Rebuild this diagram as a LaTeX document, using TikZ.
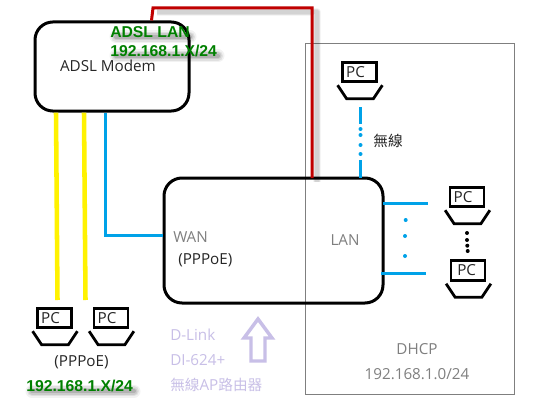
\documentclass[tikz,border=0pt]{standalone}
\usepackage{fontspec}
\setmainfont{Open Sans}
\newfontfamily\armo{Liberation Sans}
\newfontfamily\cjk{Noto Sans CJK TC}
\usetikzlibrary{calc}
\definecolor{rd}{RGB}{192,0,0}
\definecolor{yl}{RGB}{255,242,0}
\definecolor{bl}{RGB}{0,162,232}
\definecolor{gn}{RGB}{0,128,0}
\definecolor{lav}{RGB}{200,191,231}
\definecolor{gt}{RGB}{127,127,127}
\tikzset{
 x=0.75pt,y=-0.75pt,
 roundbox/.style={draw=black,line width=2.25pt,rounded corners=13.5pt,minimum width=#1,inner sep=0pt},
 monitor/.style={draw=black,line width=2.1pt,minimum width=25.5pt,minimum height=14.7pt,inner sep=0pt,font=\fontsize{11.4pt}{12pt}\selectfont,text=black!85},
 lbl/.style={inner sep=0pt,font=\fontsize{11.4pt}{12pt}\selectfont,text=black!85},
 glbl/.style={lbl,text=gt},
 llbl/.style={lbl,text=lav,anchor=west},
 glab/.style={inner sep=0pt,anchor=west,text=gn,font=\armo\bfseries\fontsize{11.8pt}{12pt}\selectfont},
 wire/.style={line width=#1,line cap=butt},
 bluedot/.style={circle,fill=bl,inner sep=0pt,minimum size=3pt},
 blackdot/.style={circle,fill=black,inner sep=0pt,minimum size=3pt},
}
\newcommand{\pcbase}[1]{%
 \draw[line width=2.1pt] ($(#1.south west)+(-3.5,2)$) -- ($(#1.south west)+(5.5,15.5)$) -- ($(#1.south east)+(-4.5,15.5)$) -- ($(#1.south east)+(4.5,2)$);
}
\begin{document}
\begin{tikzpicture}
\useasboundingbox (0,0) rectangle (549,410);
\fill[white] (0,0) rectangle (549,410);
% DHCP zone
\node[draw=gt,line width=0.75pt,minimum width=156.4pt,minimum height=263.3pt,inner sep=0pt] (zone) at (409.75,218.75) {};
% red line shadow
\foreach \w/\o in {6/.04,5/.04,4/.05,3/.05}{
 \draw[black,opacity=\o,line width=\w pt,line join=round] (157,12) -- (317,12) -- (317,182);
}
% boxes
\node[roundbox=115.5pt,minimum height=66.8pt] (modem) at (112,66.5) {};
\node[roundbox=164.25pt,minimum height=93.75pt] (router) at (273.5,240.5) {};
% coordinates
\coordinate (redA) at ($(modem.north west)+(118,0)$);
\coordinate (redB) at (153,8);
\coordinate (redC) at (312,8);
\coordinate (redD) at (312,178);
\coordinate (y1a) at ($(modem.south west)+(22.5,0)$);
\coordinate (y2a) at ($(modem.south west)+(50.5,0)$);
\coordinate (b1a) at ($(modem.south west)+(71.5,0)$);
\coordinate (wanIn) at (router.west |- 0,235.5);
\coordinate (w1) at (360.5,107);
\coordinate (w2) at (360.5,124);
\coordinate (w3) at (360.5,160);
\coordinate (w4) at (360.5,178);
\coordinate (l1) at (383,203);
\coordinate (l2) at (428,203);
\coordinate (l3) at (381,273);
\coordinate (l4) at (426,273);
% wires
\draw[rd,wire=2.25pt,line join=miter] (redA) -- (redB) -- (redC) -- (redD);
\draw[yl,wire=3.4pt] (y1a) -- (57.5,300);
\draw[yl,wire=3.4pt] (y2a) -- (85.5,300);
\draw[bl,wire=2.25pt] (b1a) |- (wanIn);
\draw[bl,wire=2.4pt] (w1) -- (w2);
\draw[bl,wire=2.4pt] (w3) -- (w4);
\draw[bl,wire=2.25pt] (l1) -- (l2);
\draw[bl,wire=2.25pt] (l3) -- (l4);
\foreach \n/\px/\py in {a/360.5/129,b/360.5/135,c/360.5/145,d/360.5/154,e/405.7/220,f/405/236,g/405/256}{
 \node[bluedot] (bd\n) at (\px,\py) {};
}
\foreach \n/\px/\py in {a/467/233,b/467/240,c/467.3/245.7,d/467.7/251}{
 \node[blackdot] (kd\n) at (\px,\py) {};
}
% PCs
\node[monitor] (pc1) at (54.5,318) {\kern-6pt PC};
\node[monitor] (pc2) at (111,318) {\kern-6pt PC};
\node[monitor] (pc3) at (359.5,72) {\kern-6pt PC};
\node[monitor] (pc4) at (467,197) {\kern-6pt PC};
\node[monitor] (pc5) at (468,270.5) {\kern-2pt PC};
\pcbase{pc1}\pcbase{pc2}\pcbase{pc3}\pcbase{pc4}\pcbase{pc5}
% labels
\node[lbl] (tm) at (108,66) {ADSL Modem};
\node[glbl,anchor=west] (twan) at (173,237) {WAN};
\node[lbl,anchor=west] (tp1) at (178,260) {(PPPoE)};
\node[glbl] (tlan) at (345,240) {LAN};
\node[lbl] (tp2) at (81.5,362) {(PPPoE)};
\node[lbl,font=\cjk\fontsize{11pt}{12pt}\selectfont] (twl) at (388,141) {無線};
\node[glbl] (tdh) at (417,349) {DHCP};
\node[glbl] (tip) at (417,374) {192.168.1.0/24};
\node[llbl] (td1) at (170,335) {D-Link};
\node[llbl] (td2) at (170,360) {DI-624+};
\node[llbl] (td3) at (170,385) {{\cjk\fontsize{11pt}{12pt}\selectfont 無線}AP{\cjk\fontsize{11pt}{12pt}\selectfont 路由器}};
% arrow
\draw[lav,line width=2.6pt,line join=miter] (258,319) -- (272,338) -- (265,338) -- (265,361) -- (251,361) -- (251,338) -- (244,338) -- cycle;
% green label shadows
\foreach \w/\o in {13/.05,10/.07,7/.09,4/.12}{
 \draw[black,opacity=\o,line width=0.75*\w pt,line cap=round] (116,37) -- (190,37);
 \draw[black,opacity=\o,line width=0.75*\w pt,line cap=round] (116,56) -- (218,56);
 \draw[black,opacity=\o,line width=0.75*\w pt,line cap=round] (32,391) -- (134,391);
}
\node[glab] (g1) at (110,32) {ADSL LAN};
\node[glab] (g2) at (110,51) {192.168.1.X/24};
\node[glab] (g3) at (26,386) {192.168.1.X/24};
\end{tikzpicture}
\end{document}
